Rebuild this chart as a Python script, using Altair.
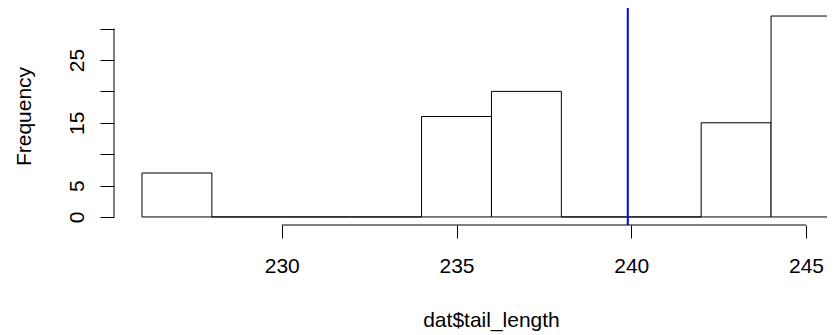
import altair as alt
import pandas as pd

# Histogram bins (dat$tail_length), width 2
bin_starts = [226, 228, 230, 232, 234, 236, 238, 240, 242, 244]
bin_ends = [228, 230, 232, 234, 236, 238, 240, 242, 244, 246]
counts = [7, 0, 0, 0, 16, 20, 0, 0, 15, 32]

# reference (mean) line
vline_x = [239.9]

x_ticks = [230, 235, 240, 245]
y_ticks = [0, 5, 10, 15, 20, 25, 30]
y_labelled = [0, 5, 15, 25]

FONT = "Liberation Sans"
PX_PER_UNIT = 34.95
W, H = 713, 217

bars_df = pd.DataFrame({"start": bin_starts, "end": bin_ends, "count": counts,
                        "zero": [0] * len(counts)})
vline_df = pd.DataFrame({"x": vline_x})
xspan_df = pd.DataFrame({"lo": [min(x_ticks)], "hi": [max(x_ticks)]})
yspan_df = pd.DataFrame({"lo": [min(y_ticks)], "hi": [max(y_ticks)]})

xscale = alt.Scale(domain=[225.2, 225.2 + W / PX_PER_UNIT], nice=False, zero=False)
yscale = alt.Scale(domain=[-1.28, 33.28], nice=False, zero=False)

label_expr = ("indexof([" + ",".join(str(v) for v in y_labelled)
              + "], datum.value) >= 0 ? datum.label : ''")

xaxis = alt.Axis(values=x_ticks, domain=False, grid=False, ticks=True,
                 tickSize=13, tickColor="black", tickWidth=1,
                 labelFont=FONT, labelFontSize=21, labelColor="black",
                 labelBaseline="alphabetic", labelPadding=34.8,
                 labelAlign="center", labelFlush=False,
                 title="dat$tail_length", titleFont=FONT,
                 titleFontSize=21, titleFontWeight="normal",
                 titleColor="black", titleX=377, titleY=101.5,
                 titleAlign="center", titleBaseline="alphabetic")
yaxis = alt.Axis(values=y_ticks, domain=False, grid=False, ticks=True,
                 tickSize=14, tickColor="black", tickWidth=1,
                 labelFont=FONT, labelFontSize=21, labelColor="black",
                 labelAngle=270, labelAlign="center",
                 labelBaseline="alphabetic", labelPadding=16.7,
                 labelFlush=False, labelOverlap=False,
                 labelExpr=label_expr,
                 title="Frequency", titleFont=FONT, titleFontSize=21,
                 titleFontWeight="normal", titleColor="black",
                 titleAngle=270, titleX=-84, titleY=108,
                 titleAlign="center", titleBaseline="alphabetic")

bars = alt.Chart(bars_df).mark_rect(
    fill="white", stroke="black", strokeWidth=1, clip=True
).encode(
    x=alt.X("start:Q", scale=xscale, axis=xaxis),
    x2="end:Q",
    y=alt.Y("zero:Q", scale=yscale, axis=yaxis),
    y2="count:Q",
)

vline = alt.Chart(vline_df).mark_rule(color="#0000FF", strokeWidth=2).encode(
    x=alt.X("x:Q", scale=xscale, axis=xaxis),
    y=alt.value(-1),
    y2=alt.value(H),
)

xaxis_line = alt.Chart(xspan_df).mark_rule(color="black", strokeWidth=1).encode(
    x=alt.X("lo:Q", scale=xscale, axis=xaxis),
    x2="hi:Q",
    y=alt.value(H),
)

yaxis_line = alt.Chart(yspan_df).mark_rule(color="black", strokeWidth=1).encode(
    y=alt.Y("lo:Q", scale=yscale, axis=yaxis),
    y2="hi:Q",
    x=alt.value(0),
)

chart = alt.layer(bars, vline, xaxis_line, yaxis_line).properties(
    width=W, height=H,
    autosize=alt.AutoSizeParams(type="none"),
    padding={"left": 106, "top": 0, "right": 0, "bottom": 110},
    background="white",
).configure_view(stroke=None)

chart.save("out.html", embed_options={"renderer": "svg", "actions": False})
